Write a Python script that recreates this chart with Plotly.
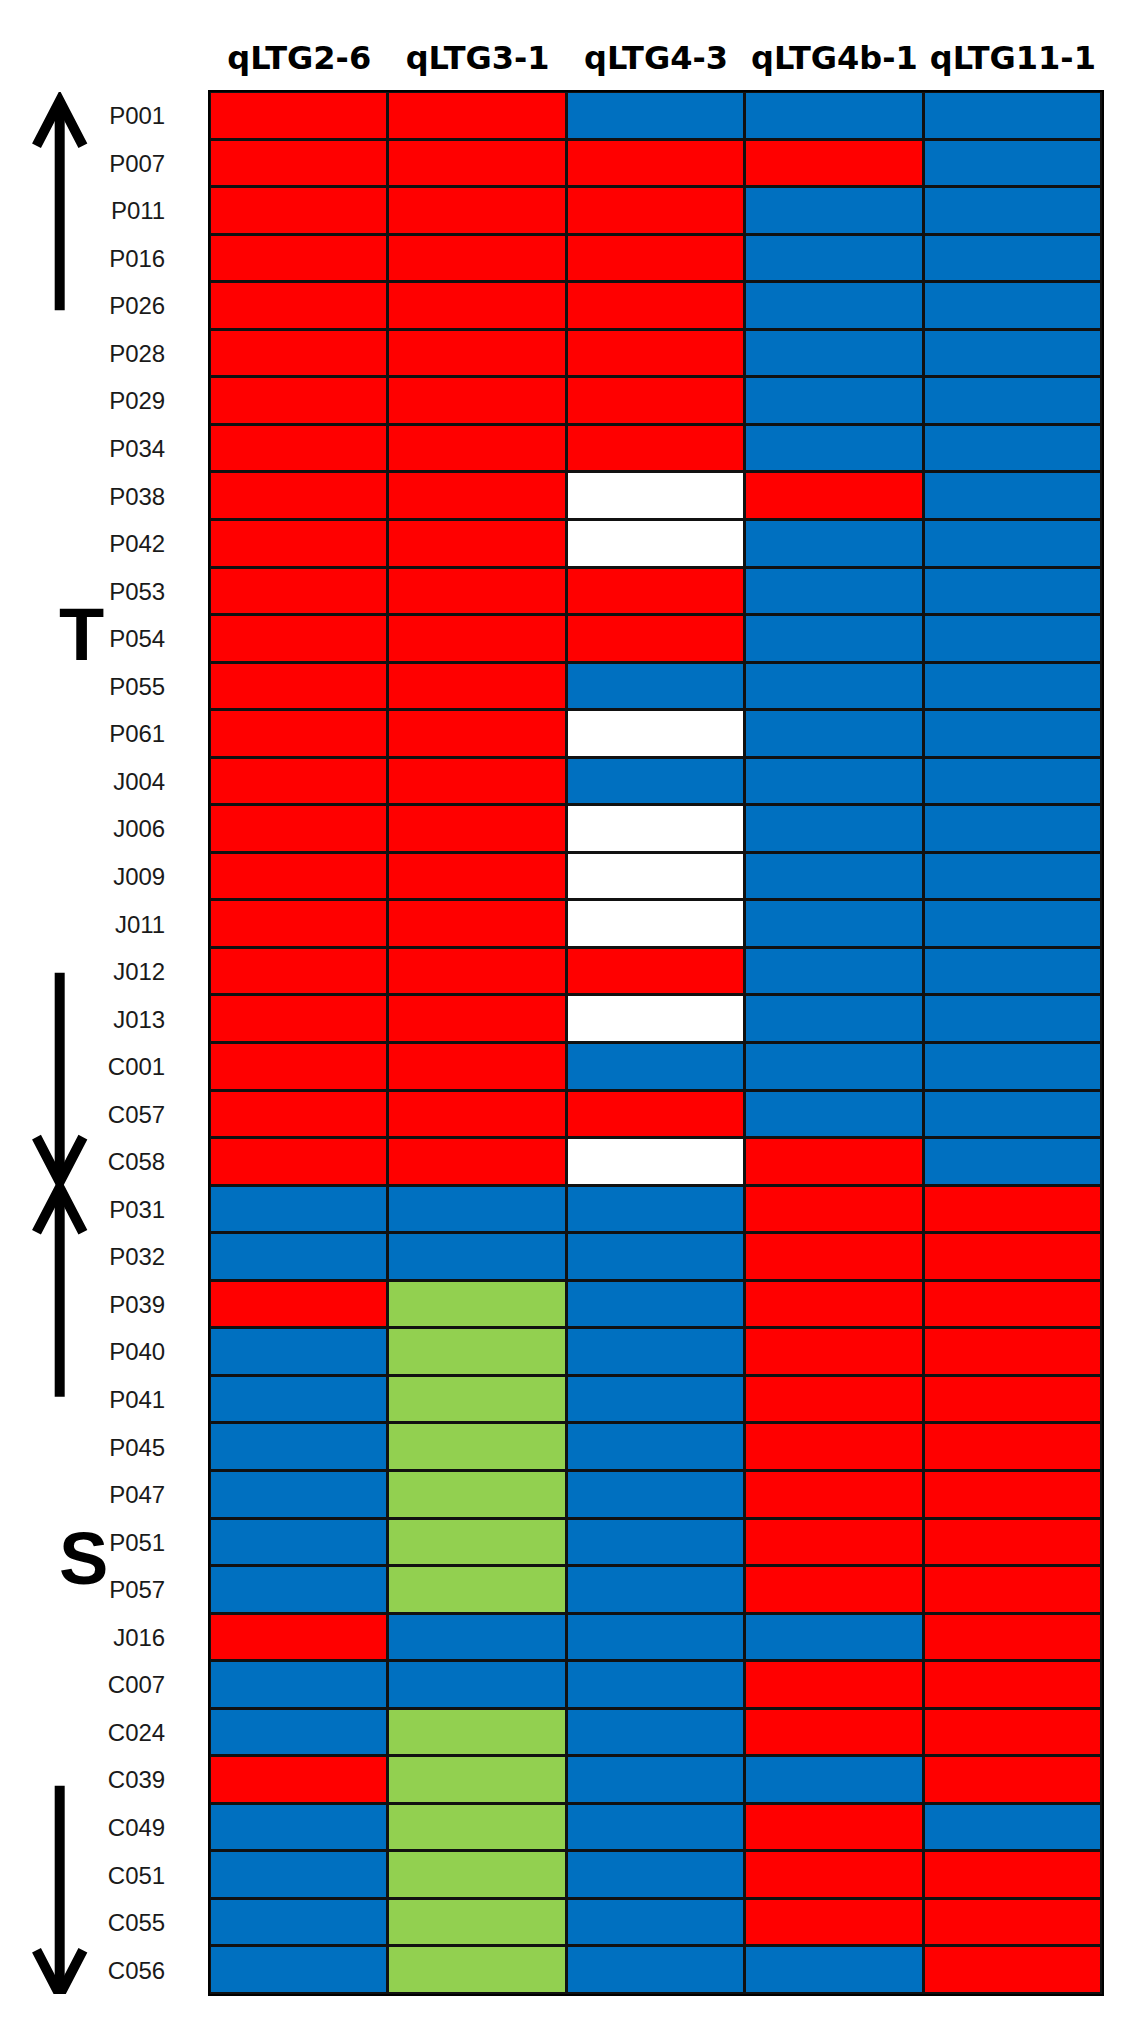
import plotly.graph_objects as go

# ---------------- data ----------------
genotypes = [
    "P001", "P007", "P011", "P016", "P026", "P028", "P029", "P034", "P038", "P042",
    "P053", "P054", "P055", "P061", "J004", "J006", "J009", "J011", "J012", "J013",
    "C001", "C057", "C058",
    "P031", "P032", "P039", "P040", "P041", "P045", "P047", "P051", "P057",
    "J016", "C007", "C024", "C039", "C049", "C051", "C055", "C056",
]
qtls = ["qLTG2-6", "qLTG3-1", "qLTG4-3", "qLTG4b-1", "qLTG11-1"]

# allele codes per QTL column (R = red, B = blue, W = white/missing, G = green)
qLTG2_6 = list("RRRRRRRRRRRRRRRRRRRRRRR" "BBRBBBBBB" "RBBRBBBB")
qLTG3_1 = list("RRRRRRRRRRRRRRRRRRRRRRR" "BBGGGGGGG" "BBGGGGGG")
qLTG4_3 = list("BRRRRRRRWWRRBWBWWWRWBRW" "BBBBBBBBB" "BBBBBBBB")
qLTG4b_1 = list("BRBBBBBBRBBBBBBBBBBBBBR" "RRRRRRRRR" "BRRBRRRB")
qLTG11_1 = list("BBBBBBBBBBBBBBBBBBBBBBB" "RRRRRRRRR" "RRRRBRRR")

groups = ["T", "S"]
group_first = ["P001", "P031"]
group_last = ["C058", "C056"]

code_value = {"W": 0, "B": 1, "R": 2, "G": 3}
colorscale = [
    [0.0, "#FFFFFF"], [0.2, "#FFFFFF"],
    [0.2, "#0070C0"], [0.5, "#0070C0"],
    [0.5, "#FF0000"], [0.8, "#FF0000"],
    [0.8, "#92D050"], [1.0, "#92D050"],
]

columns = [qLTG2_6, qLTG3_1, qLTG4_3, qLTG4b_1, qLTG11_1]
z = [[code_value[col[i]] for col in columns] for i in range(len(genotypes))]

fig = go.Figure(
    go.Heatmap(
        z=z, x=qtls, y=genotypes,
        colorscale=colorscale, zmin=0, zmax=3, showscale=False,
        xgap=3, ygap=3, hoverinfo="skip",
    )
)

n = len(genotypes)
fig.update_layout(
    width=1142, height=2041,
    margin=dict(l=210, r=40, t=92, b=47),
    paper_bgcolor="white", plot_bgcolor="#111111",
    xaxis=dict(
        side="top", range=[-0.5, len(qtls) - 0.5], showgrid=False, zeroline=False,
        showline=True, mirror=True, linecolor="black", linewidth=2, ticks="",
        tickfont=dict(family="DejaVu Sans", size=32, color="black", weight="bold"),
        ticklabelstandoff=8,
    ),
    yaxis=dict(
        range=[n - 0.5, -0.5], showgrid=False, zeroline=False,
        showline=True, mirror=True, linecolor="black", linewidth=2, ticks="",
        tickfont=dict(family="Liberation Sans", size=24, color="#1a1a1a"),
        ticklabelstandoff=38,
    ),
)

# ---------------- group arrows and letters ----------------
idx = {g: i for i, g in enumerate(genotypes)}
ax_x = -0.1685       # paper x of arrow shaft
half_w = 0.026       # chevron half width (paper)
head_h = 0.94        # chevron height (rows)
arrow_len = 4.4      # arrow length (rows)
letter_offset = [-0.1, -0.65]


def arrow(tip, tail):
    d = 1 if tail > tip else -1
    fig.add_shape(type="line", xref="paper", yref="y", x0=ax_x, x1=ax_x,
                  y0=tip + 0.05 * d, y1=tail, line=dict(color="black", width=10))
    fig.add_shape(type="path", xref="paper", yref="y",
                  path=f"M {ax_x - half_w},{tip + d * head_h} L {ax_x},{tip} L {ax_x + half_w},{tip + d * head_h}",
                  line=dict(color="black", width=10))


for g, first, last, off in zip(groups, group_first, group_last, letter_offset):
    a, b = idx[first], idx[last]
    up_tip = a - 0.5 + (0.19 if g == "T" else 0.04)
    down_tip = b + (0.42 if g == "T" else 0.52)
    arrow(up_tip, up_tip + arrow_len)
    arrow(down_tip, down_tip - arrow_len)
    fig.add_annotation(text=g, xref="paper", yref="y", x=-0.171, y=(a + b) / 2 + off,
                       showarrow=False, font=dict(family="Liberation Sans", size=74,
                                                  color="black", weight="bold"))

fig.write_html("out.html")
